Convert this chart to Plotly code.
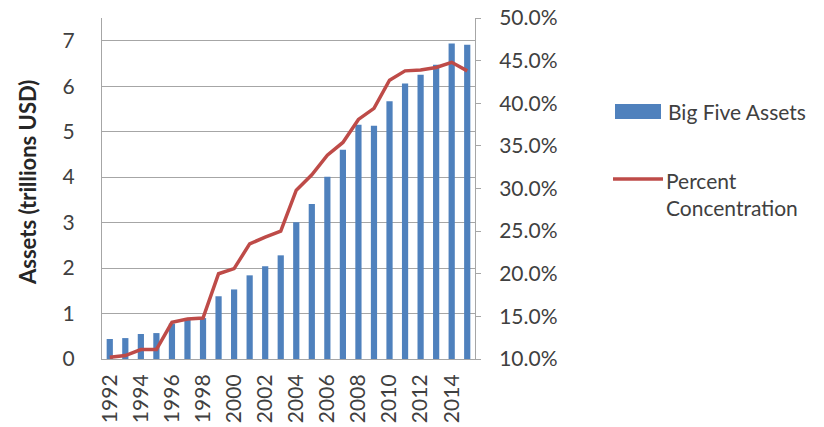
import plotly.graph_objects as go

# Annual data, 1992-2015
years = list(range(1992, 2016))
assets_trillions = [0.44, 0.46, 0.55, 0.57, 0.78, 0.87, 0.90, 1.38, 1.53, 1.84, 2.04, 2.28,
                    3.01, 3.41, 4.01, 4.60, 5.15, 5.13, 5.67, 6.06, 6.25, 6.47, 6.94, 6.91]
percent_concentration = [10.2, 10.4, 11.1, 11.1, 14.3, 14.7, 14.8, 20.0, 20.6, 23.5, 24.3, 25.0,
                         29.8, 31.6, 33.9, 35.4, 38.1, 39.4, 42.7, 43.8, 43.9, 44.2, 44.8, 43.8]
left_ticks = list(range(0, 8))
right_ticks = list(range(10, 55, 5))
year_ticks = years[::2]

BAR_COLOR = "#4F81BD"
LINE_COLOR = "#BE4B48"
AXIS_COLOR = "#A6A6A6"
TEXT_COLOR = "#404040"
FONT = "Lato"

W, H = 824, 427
ML, MR, MT, MB = 102, 349, 18, 68
PW, PH = W - ML - MR, H - MT - MB


def px(x, y):
    """Convert pixel position into paper coordinates."""
    return (x - ML) / PW, (H - MB - y) / PH


fig = go.Figure()
fig.add_trace(go.Bar(
    x=years, y=assets_trillions, name="Big Five Assets",
    marker=dict(color=BAR_COLOR, line=dict(width=0)), width=0.4,
))
fig.add_trace(go.Scatter(
    x=years, y=percent_concentration, name="Percent Concentration", yaxis="y2",
    mode="lines", line=dict(color=LINE_COLOR, width=3.5),
))

fig.update_layout(
    width=W, height=H,
    margin=dict(l=ML, r=MR, t=MT, b=MB, autoexpand=False),
    paper_bgcolor="white", plot_bgcolor="white",
    showlegend=False,
    font=dict(family=FONT, size=21, color=TEXT_COLOR),
    xaxis=dict(
        range=[1991.5, 2015.5], tickmode="array", tickvals=year_ticks,
        ticktext=[str(y) for y in year_ticks], tickangle=-90,
        showgrid=False, showline=True, linecolor=AXIS_COLOR, linewidth=1,
        ticks="", ticklabelstandoff=6, zeroline=False, automargin=False,
    ),
    yaxis=dict(
        range=[0, 7.5], tickmode="array", tickvals=left_ticks,
        showgrid=True, gridcolor=AXIS_COLOR, gridwidth=1,
        showline=True, linecolor=AXIS_COLOR, linewidth=1,
        zeroline=False, ticks="", ticklabelstandoff=22, automargin=False,
    ),
    yaxis2=dict(
        range=[10, 50], overlaying="y", side="right", anchor="x",
        tickmode="array", tickvals=right_ticks,
        ticktext=[f"{v:.1f}%" for v in right_ticks],
        showgrid=False, zeroline=False,
        showline=True, linecolor=AXIS_COLOR, linewidth=1,
        ticks="outside", ticklen=5, tickcolor=AXIS_COLOR, ticklabelstandoff=14,
        automargin=False,
    ),
    bargap=0.6,
)

# Y-axis title
tx, ty = px(27, 183)
fig.add_annotation(
    x=tx, y=ty, xref="paper", yref="paper", text="<b>Assets (trillions USD)</b>",
    textangle=-90, showarrow=False, xanchor="center", yanchor="middle",
    font=dict(family=FONT, size=22, color="#262626"),
)

# Legend
x0, y0 = px(615, 104)
x1, y1 = px(661, 119)
fig.add_shape(type="rect", xref="paper", yref="paper", x0=x0, y0=y0, x1=x1, y1=y1,
              fillcolor=BAR_COLOR, line=dict(width=0))
lx, ly = px(666, 112)
fig.add_annotation(x=lx, y=ly, xref="paper", yref="paper", text="Big Five Assets",
                   showarrow=False, xanchor="left", yanchor="middle",
                   font=dict(family=FONT, size=21, color=TEXT_COLOR))
x0, yl = px(613, 179)
x1, _ = px(663, 179)
fig.add_shape(type="line", xref="paper", yref="paper", x0=x0, y0=yl, x1=x1, y1=yl,
              line=dict(color=LINE_COLOR, width=3.5))
lx, ly = px(664, 194)
fig.add_annotation(x=lx, y=ly, xref="paper", yref="paper",
                   text="Percent<br>Concentration", align="left",
                   showarrow=False, xanchor="left", yanchor="middle",
                   font=dict(family=FONT, size=21, color=TEXT_COLOR))

fig.write_html("out.html")
